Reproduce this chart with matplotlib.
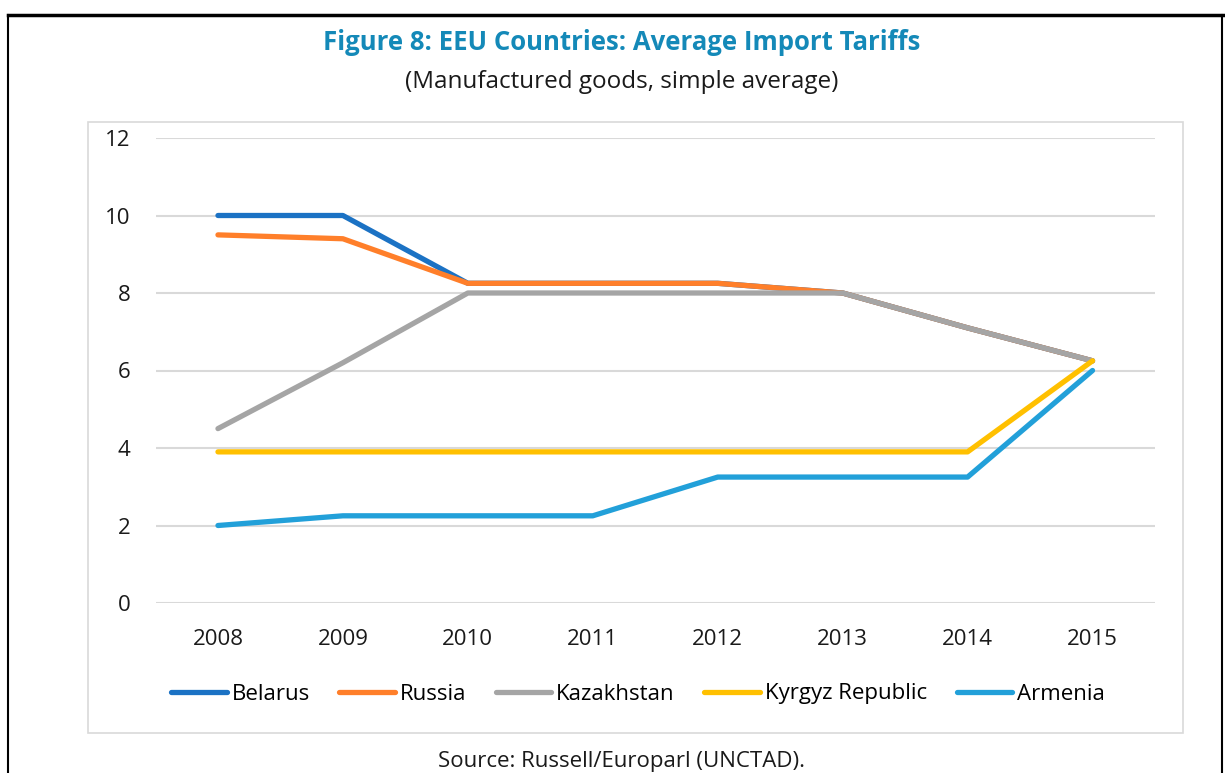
import matplotlib
matplotlib.use("Agg")

import matplotlib.pyplot as plt
from matplotlib.patches import Rectangle
from matplotlib.lines import Line2D

# ── Data ────────────────────────────────────────────────────────────
years = ["2008", "2009", "2010", "2011", "2012", "2013", "2014", "2015"]
belarus = [10.0, 10.0, 8.25, 8.25, 8.25, 8.0, 7.1, 6.25]
russia = [9.5, 9.4, 8.25, 8.25, 8.25, 8.0, 7.1, 6.25]
kazakhstan = [4.5, 6.2, 8.0, 8.0, 8.0, 8.0, 7.1, 6.25]
kyrgyz = [3.9, 3.9, 3.9, 3.9, 3.9, 3.9, 3.9, 6.25]
armenia = [2.0, 2.25, 2.25, 2.25, 3.25, 3.25, 3.25, 6.0]

series = [
    ("Belarus", belarus, "#1B72C4"),
    ("Russia", russia, "#FF7F2A"),
    ("Kazakhstan", kazakhstan, "#A5A5A5"),
    ("Kyrgyz Republic", kyrgyz, "#FFC000"),
    ("Armenia", armenia, "#22A0D9"),
]

plt.rcParams["font.family"] = ["Open Sans", "DejaVu Sans"]

W, H = 1225, 773
fig = plt.figure(figsize=(W / 100, H / 100), dpi=100)

# outer page frame (black) and chart frame (light gray)
fig.add_artist(Line2D([8 / W, 1], [1 - 15 / H, 1 - 15 / H], color="black", lw=2.5))
fig.add_artist(Line2D([8 / W, 8 / W], [0, 1 - 15 / H], color="black", lw=1.5))
fig.add_artist(Line2D([1222 / W, 1222 / W], [0, 1 - 15 / H], color="black", lw=1.5))
fig.add_artist(Rectangle((88 / W, 1 - 733 / H), (1183 - 88) / W, (733 - 122) / H,
                         fill=False, edgecolor="#D9D9D9", lw=1.2))

fig.text(622 / W, 1 - 43 / H, "Figure 8: EEU Countries: Average Import Tariffs",
         ha="center", va="center", fontsize=18.5, fontweight="bold", color="#1489B8")
fig.text(622 / W, 1 - 82 / H, "(Manufactured goods, simple average)",
         ha="center", va="center", fontsize=17.5, color="#1A1A1A")
fig.text(622 / W, 1 - 762 / H, "Source: Russell/Europarl (UNCTAD).",
         ha="center", va="center", fontsize=16, color="#1A1A1A")

ax = fig.add_axes([155.5 / W, 1 - 603 / H, (1155 - 155.5) / W, (603 - 138) / H])
x = range(len(years))
for name, vals, col in series:
    ax.plot(x, vals, color=col, lw=3.8, label=name, solid_capstyle="round",
            solid_joinstyle="round", clip_on=False, zorder=3)

ax.set_xlim(-0.5, len(years) - 0.5)
ax.set_ylim(0, 12)
ax.set_yticks(range(0, 13, 2))
ax.set_xticks(list(x))
ax.set_xticklabels(years)
ax.grid(axis="y", color="#D9D9D9", lw=1.5, zorder=0)
ax.set_axisbelow(True)
for s in ax.spines.values():
    s.set_visible(False)
ax.tick_params(length=0, labelsize=16, colors="#1A1A1A")
ax.tick_params(axis="y", pad=18)
ax.tick_params(axis="x", pad=19)

fig.legend(loc="center", bbox_to_anchor=(638 / W, 1 - 694 / H), ncol=5, frameon=False,
           fontsize=16, handlelength=2.5, handletextpad=0.22, columnspacing=1.33)

fig.savefig("out.png", dpi=100)
